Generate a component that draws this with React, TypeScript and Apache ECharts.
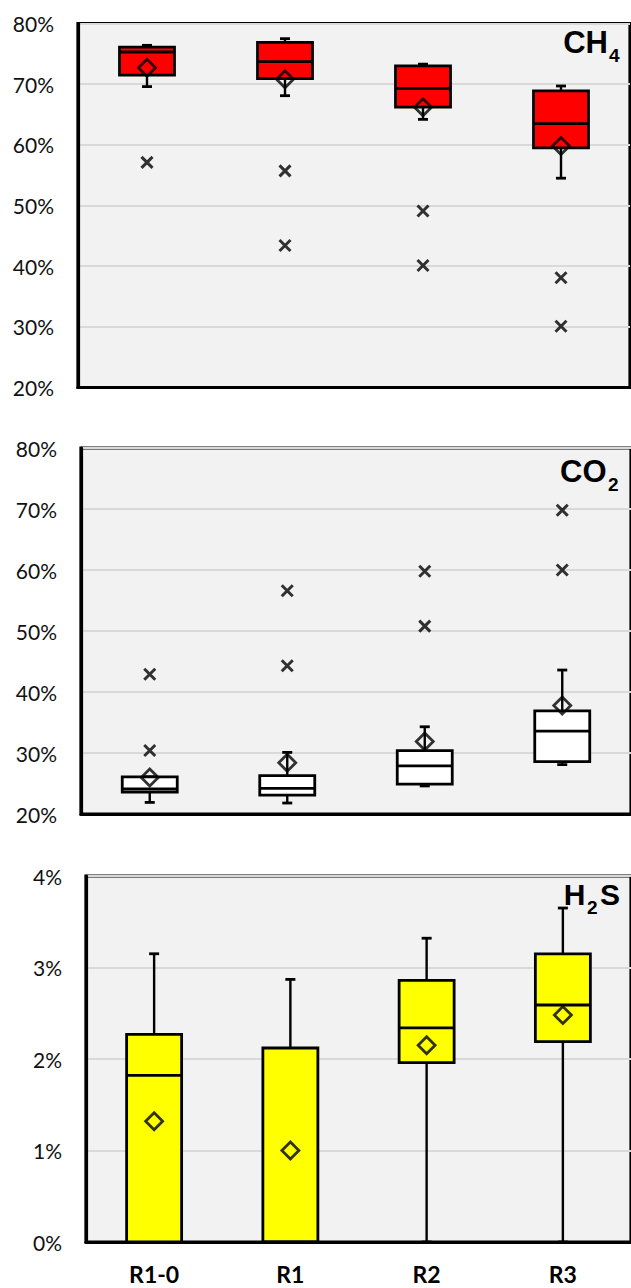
import React, { useEffect, useRef } from "react";
import * as echarts from "echarts";

const categories = ["R1-0", "R1", "R2", "R3"];

// [min, Q1, median, Q3, max] in %
const ch4Box = [
  [69.6, 71.5, 75.3, 76.1, 76.4],
  [68.1, 70.9, 73.7, 76.9, 77.5],
  [64.2, 66.2, 69.3, 73.0, 73.3],
  [54.5, 59.5, 63.5, 68.9, 69.7],
];
const ch4Mean = [72.7, 70.8, 66.2, 59.8];
const ch4Outliers = [
  [0, 57.1],
  [1, 55.7],
  [1, 43.4],
  [2, 49.1],
  [2, 40.1],
  [3, 38.1],
  [3, 30.1],
];

const co2Box = [
  [21.9, 23.6, 24.1, 26.1, 26.1],
  [21.8, 23.1, 24.2, 26.3, 30.1],
  [24.6, 24.9, 27.9, 30.4, 34.3],
  [28.1, 28.6, 33.6, 36.9, 43.6],
];
const co2Mean = [26.0, 28.4, 31.9, 37.8];
const co2Outliers = [
  [0, 42.9],
  [0, 30.4],
  [1, 56.6],
  [1, 44.3],
  [2, 59.8],
  [2, 50.8],
  [3, 69.8],
  [3, 60.0],
];

const h2sBox = [
  [0, 0, 1.82, 2.27, 3.15],
  [0, 0, 0, 2.12, 2.87],
  [0, 1.96, 2.34, 2.86, 3.32],
  [0, 2.19, 2.59, 3.15, 3.65],
];
const h2sMean = [1.32, 1.0, 2.15, 2.48];

const ch4Ticks = { min: 20, max: 80, interval: 10 };
const co2Ticks = { min: 20, max: 80, interval: 10 };
const h2sTicks = { min: 0, max: 4, interval: 1 };

const LABEL_FONT = "Lato";
const TITLE_FONT = "Liberation Sans";

function boxRenderer(fillColor: string) {
  return (params: any, api: any) => {
    const idx = api.value(0);
    const pMin = api.coord([idx, api.value(1)]);
    const pQ1 = api.coord([idx, api.value(2)]);
    const pMed = api.coord([idx, api.value(3)]);
    const pQ3 = api.coord([idx, api.value(4)]);
    const pMax = api.coord([idx, api.value(5)]);
    const cx = pMin[0];
    const hw = 27.5;
    const cap = 5;
    return {
      type: "group",
      children: [
        { type: "line", shape: { x1: cx, y1: pMax[1], x2: cx, y2: pMin[1] }, style: { stroke: "#000", lineWidth: 2.4 } },
        { type: "line", shape: { x1: cx - cap, y1: pMax[1], x2: cx + cap, y2: pMax[1] }, style: { stroke: "#000", lineWidth: 2.8 } },
        { type: "line", shape: { x1: cx - cap, y1: pMin[1], x2: cx + cap, y2: pMin[1] }, style: { stroke: "#000", lineWidth: 2.8 } },
        {
          type: "rect",
          shape: { x: cx - hw, y: pQ3[1], width: hw * 2, height: pQ1[1] - pQ3[1] },
          style: { fill: fillColor, stroke: "#000", lineWidth: 2.8 },
        },
        { type: "line", shape: { x1: cx - hw, y1: pMed[1], x2: cx + hw, y2: pMed[1] }, style: { stroke: "#000", lineWidth: 2.8 } },
      ],
    };
  };
}

export default function App() {
  const ref = useRef<HTMLDivElement>(null);

  useEffect(() => {
    if (!ref.current) return;
    const chart = echarts.init(ref.current, null, { renderer: "svg" });

    const grids = [
      { left: 78, top: 23.5, width: 552, height: 364 },
      { left: 81, top: 448, width: 554, height: 366 },
      { left: 86, top: 876, width: 549, height: 366 },
    ].map((g) => ({
      ...g,
      show: true,
      backgroundColor: "#f2f2f2",
      borderColor: "#000",
      borderWidth: 3.2,
      containLabel: false,
    }));

    const ticks = [ch4Ticks, co2Ticks, h2sTicks];

    const xAxes = [0, 1, 2].map((i) => ({
      type: "category",
      gridIndex: i,
      data: categories,
      axisLine: { show: true, lineStyle: { color: "#000", width: 3.2 } },
      axisTick: { show: false },
      splitLine: { show: false },
      axisLabel: {
        show: i === 2,
        margin: 20,
        fontFamily: LABEL_FONT,
        fontWeight: "bold",
        fontSize: 23,
        color: "#000",
      },
    }));

    const yAxes = [0, 1, 2].map((i) => ({
      type: "value",
      gridIndex: i,
      min: ticks[i].min,
      max: ticks[i].max,
      interval: ticks[i].interval,
      axisLine: { show: true, lineStyle: { color: "#000", width: 3.2 } },
      axisTick: { show: false },
      splitLine: { show: true, lineStyle: { color: "#d9d9d9", width: 2 } },
      axisLabel: {
        formatter: "{value}%",
        margin: 24,
        fontFamily: LABEL_FONT,
        fontSize: 21,
        color: "#111",
      },
    }));

    const boxes = [ch4Box, co2Box, h2sBox];
    const means = [ch4Mean, co2Mean, h2sMean];
    const outliers = [ch4Outliers, co2Outliers, [] as number[][]];
    const fills = ["#ff0000", "#ffffff", "#ffff00"];

    const series: any[] = [];
    [0, 1, 2].forEach((i) => {
      series.push({
        type: "custom",
        xAxisIndex: i,
        yAxisIndex: i,
        renderItem: boxRenderer(fills[i]),
        encode: { x: 0, y: [1, 2, 3, 4, 5] },
        data: boxes[i].map((b, k) => [k, ...b]),
        z: 2,
      });
      series.push({
        type: "scatter",
        xAxisIndex: i,
        yAxisIndex: i,
        symbol: "diamond",
        symbolSize: [17, 17],
        itemStyle: { color: "rgba(0,0,0,0)", borderColor: "#000", borderWidth: 2.8 },
        data: means[i].map((m, k) => [k, m]),
        z: 3,
      });
      series.push({
        type: "scatter",
        xAxisIndex: i,
        yAxisIndex: i,
        symbol: "path://M0,0L10,10M10,0L0,10",
        symbolSize: 11,
        itemStyle: { color: "rgba(0,0,0,0)", borderColor: "#000", borderWidth: 3 },
        data: outliers[i],
        z: 3,
      });
    });

    const titleText = (text: string, x: number, y: number, size: number, align: string) => ({
      type: "text",
      x,
      y,
      z: 10,
      style: {
        text,
        font: `bold ${size}px "${TITLE_FONT}"`,
        fill: "#000",
        textAlign: align,
        textVerticalAlign: "middle",
      },
    });

    chart.setOption({
      animation: false,
      grid: grids,
      xAxis: xAxes,
      yAxis: yAxes,
      series,
      graphic: [
        titleText("CH", 608, 42.5, 31, "right"),
        titleText("4", 609, 55, 19, "left"),
        titleText("CO", 606.5, 471.7, 31, "right"),
        titleText("2", 608, 484.5, 19, "left"),
        titleText("H", 585.5, 894, 30, "right"),
        titleText("2", 587, 907, 19, "left"),
        titleText("S", 600, 894, 30, "left"),
      ],
    });

    return () => chart.dispose();
  }, []);

  return (
    <div
      ref={ref}
      style={{ position: "absolute", left: 0, top: 0, width: 631, height: 1288 }}
    />
  );
}
